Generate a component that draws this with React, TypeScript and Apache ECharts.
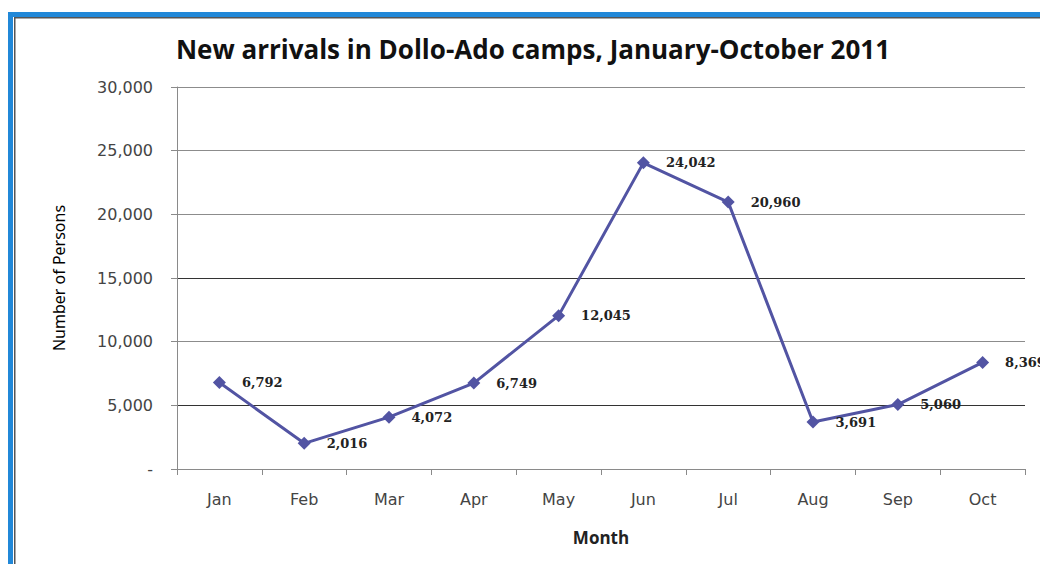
import React, { useEffect, useRef } from "react";
import * as echarts from "echarts";

const months = ["Jan", "Feb", "Mar", "Apr", "May", "Jun", "Jul", "Aug", "Sep", "Oct"];
const arrivals = [6792, 2016, 4072, 6749, 12045, 24042, 20960, 3691, 5060, 8369];
const yTicks = { min: 0, max: 30000, interval: 5000 };
const titleText = "New arrivals in Dollo-Ado camps, January-October 2011";
const yAxisTitle = "Number of Persons";
const xAxisTitle = "Month";

const fmt = (v: number) => (v === 0 ? "-" : v.toLocaleString("en-US"));

export default function App() {
  const ref = useRef<HTMLDivElement>(null);
  useEffect(() => {
    if (!ref.current) return;
    const chart = echarts.init(ref.current, null, { renderer: "svg" });
    const lineColor = "#5254A3";
    chart.setOption({
      animation: false,
      backgroundColor: "#ffffff",
      title: {
        text: titleText,
        left: 528,
        top: 31,
        textAlign: "center",
        textStyle: {
          fontFamily: "Open Sans",
          fontWeight: "bold",
          fontSize: 26,
          color: "#111",
        },
      },
      grid: { left: 177, right: 15, top: 87, bottom: 95 },
      xAxis: {
        type: "category",
        data: months,
        boundaryGap: true,
        name: xAxisTitle,
        nameLocation: "middle",
        nameGap: 60,
        nameTextStyle: { fontFamily: "Open Sans", fontWeight: "bold", fontSize: 17, color: "#222" },
        axisLine: { lineStyle: { color: "#8a8a8a", width: 1 } },
        axisTick: { show: true, alignWithLabel: false, length: 6, lineStyle: { color: "#8a8a8a" } },
        axisLabel: { margin: 22, fontFamily: "DejaVu Sans", fontSize: 16, color: "#444" },
      },
      yAxis: {
        type: "value",
        min: yTicks.min,
        max: yTicks.max,
        interval: yTicks.interval,
        name: yAxisTitle,
        nameLocation: "middle",
        nameRotate: 90,
        nameGap: 110,
        nameTextStyle: { fontFamily: "Noto Sans", fontSize: 16, color: "#000" },
        axisLine: { show: true, lineStyle: { color: "#8a8a8a", width: 1 } },
        axisTick: { show: true, length: 6, lineStyle: { color: "#8a8a8a" } },
        axisLabel: {
          margin: 24,
          fontFamily: "DejaVu Sans",
          fontSize: 16,
          color: "#444",
          formatter: (v: number) => fmt(v),
        },
        splitLine: {
          show: true,
          lineStyle: {
            color: ["#8c8c8c", "#333", "#8c8c8c", "#333", "#8c8c8c", "#8c8c8c", "#8c8c8c"],
            width: 1,
          },
        },
      },
      graphic: [
        { type: "rect", shape: { x: 8, y: 12, width: 1032, height: 5 }, style: { fill: "#2188d8" }, z: 100 },
        { type: "rect", shape: { x: 8, y: 12, width: 5, height: 552 }, style: { fill: "#2188d8" }, z: 100 },
        { type: "rect", shape: { x: 14, y: 17, width: 1026, height: 1.5 }, style: { fill: "#555" }, z: 100 },
        { type: "rect", shape: { x: 14, y: 17, width: 1.5, height: 547 }, style: { fill: "#555" }, z: 100 },
      ],
      series: [
        {
          type: "line",
          data: arrivals,
          symbol: "diamond",
          symbolSize: 13,
          lineStyle: { color: lineColor, width: 3 },
          itemStyle: { color: lineColor },
          label: {
            show: true,
            position: "right",
            distance: 16,
            fontFamily: "DejaVu Serif",
            fontWeight: "bold",
            fontSize: 13,
            color: "#222",
            formatter: (p: any) => fmt(p.value),
          },
        },
      ],
    });
    return () => chart.dispose();
  }, []);
  return (
    <div
      ref={ref}
      style={{ position: "fixed", left: 0, top: 0, width: 1040, height: 564 }}
    />
  );
}
